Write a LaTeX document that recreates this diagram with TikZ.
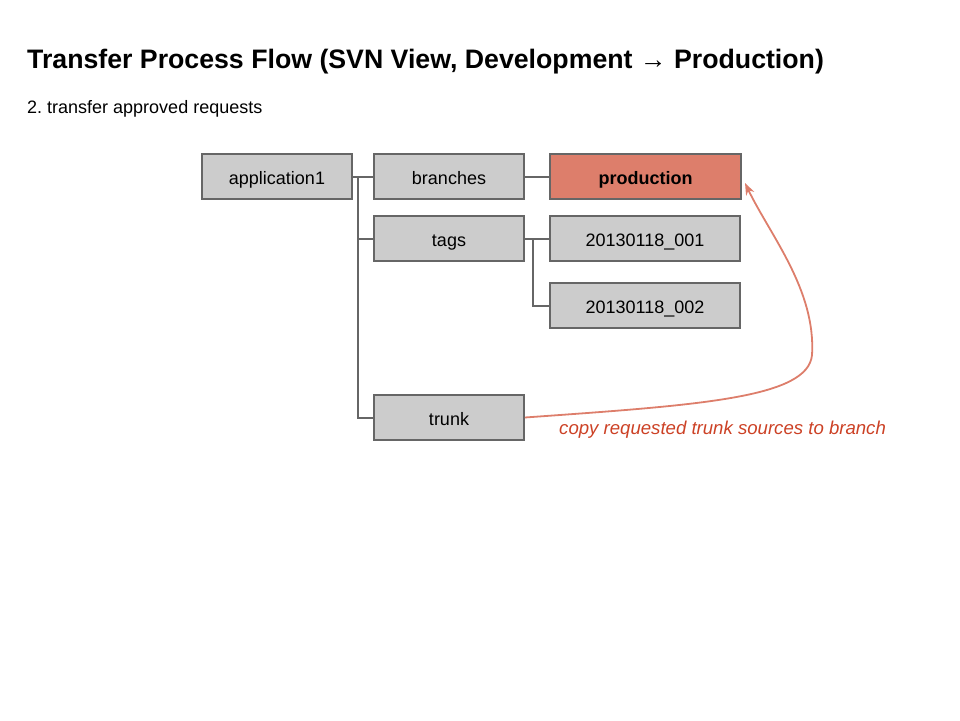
\documentclass[tikz,border=0pt]{standalone}
\usepackage{fontspec}
\setmainfont{Liberation Sans}
\usetikzlibrary{arrows.meta}
\definecolor{boxfill}{HTML}{CCCCCC}
\definecolor{boxline}{HTML}{666666}
\definecolor{prodfill}{HTML}{DD7E6B}
\definecolor{arrowc}{HTML}{DD7E6B}
\definecolor{labelc}{HTML}{CC4125}
\tikzset{
  folder/.style={draw=boxline, fill=boxfill, line width=1.8pt, minimum height=45pt, inner sep=0pt, text height=15.5pt, text depth=0pt, font=\fontsize{18}{20}\selectfont},
  link/.style={draw=boxline, line width=2pt},
}
\frenchspacing
\begin{document}
\begin{tikzpicture}[x=1pt,y=-1pt]
\useasboundingbox (0,0) rectangle (960,720);
\node[anchor=base west, inner sep=0pt, font=\fontsize{26.7}{30}\selectfont\bfseries] (title) at (27,68) {Transfer Process Flow (SVN View, Development → Production)};
\node[anchor=base west, inner sep=0pt, font=\fontsize{18}{20}\selectfont] (sub) at (27,113) {2. transfer approved requests};

\node[folder, minimum width=150pt] (app) at (277,176.5) {application1};
\node[folder, minimum width=150pt] (br) at (449,176.5) {branches};
\node[folder, minimum width=191pt, fill=prodfill, font=\fontsize{18}{20}\selectfont\bfseries] (prod) at (645.5,176.5) {production};
\node[folder, minimum width=150pt] (tags) at (449,238.5) {tags};
\node[folder, minimum width=190pt] (t1) at (645,238.5) {20130118\_001};
\node[folder, minimum width=190pt] (t2) at (645,305.5) {20130118\_002};
\node[folder, minimum width=150pt] (trunk) at (449,417.5) {trunk};

\coordinate (ja) at (358,176.5);
\coordinate (jt) at (533,238.5);
\draw[link] (app.east) -- (br.west);
\draw[link] (ja) |- (tags.west);
\draw[link] (ja) |- (trunk.west);
\draw[link] (br.east) -- (prod.west);
\draw[link] (tags.east) -- (t1.west);
\draw[link] (jt) |- (t2.west);

\coordinate (bend) at (812,355);
\draw[draw=arrowc, line width=1.8pt, -{Stealth[length=12pt,width=9pt]}]
  (trunk.east) .. controls (700,405) and (808,398) .. (bend)
  .. controls (816,290) and (770,235) .. (745,183);
\node[anchor=base west, inner sep=0pt, text=labelc, font=\fontsize{18.6}{20}\selectfont\itshape] (lbl) at (559,434) {copy requested trunk sources to branch};
\end{tikzpicture}
\end{document}
